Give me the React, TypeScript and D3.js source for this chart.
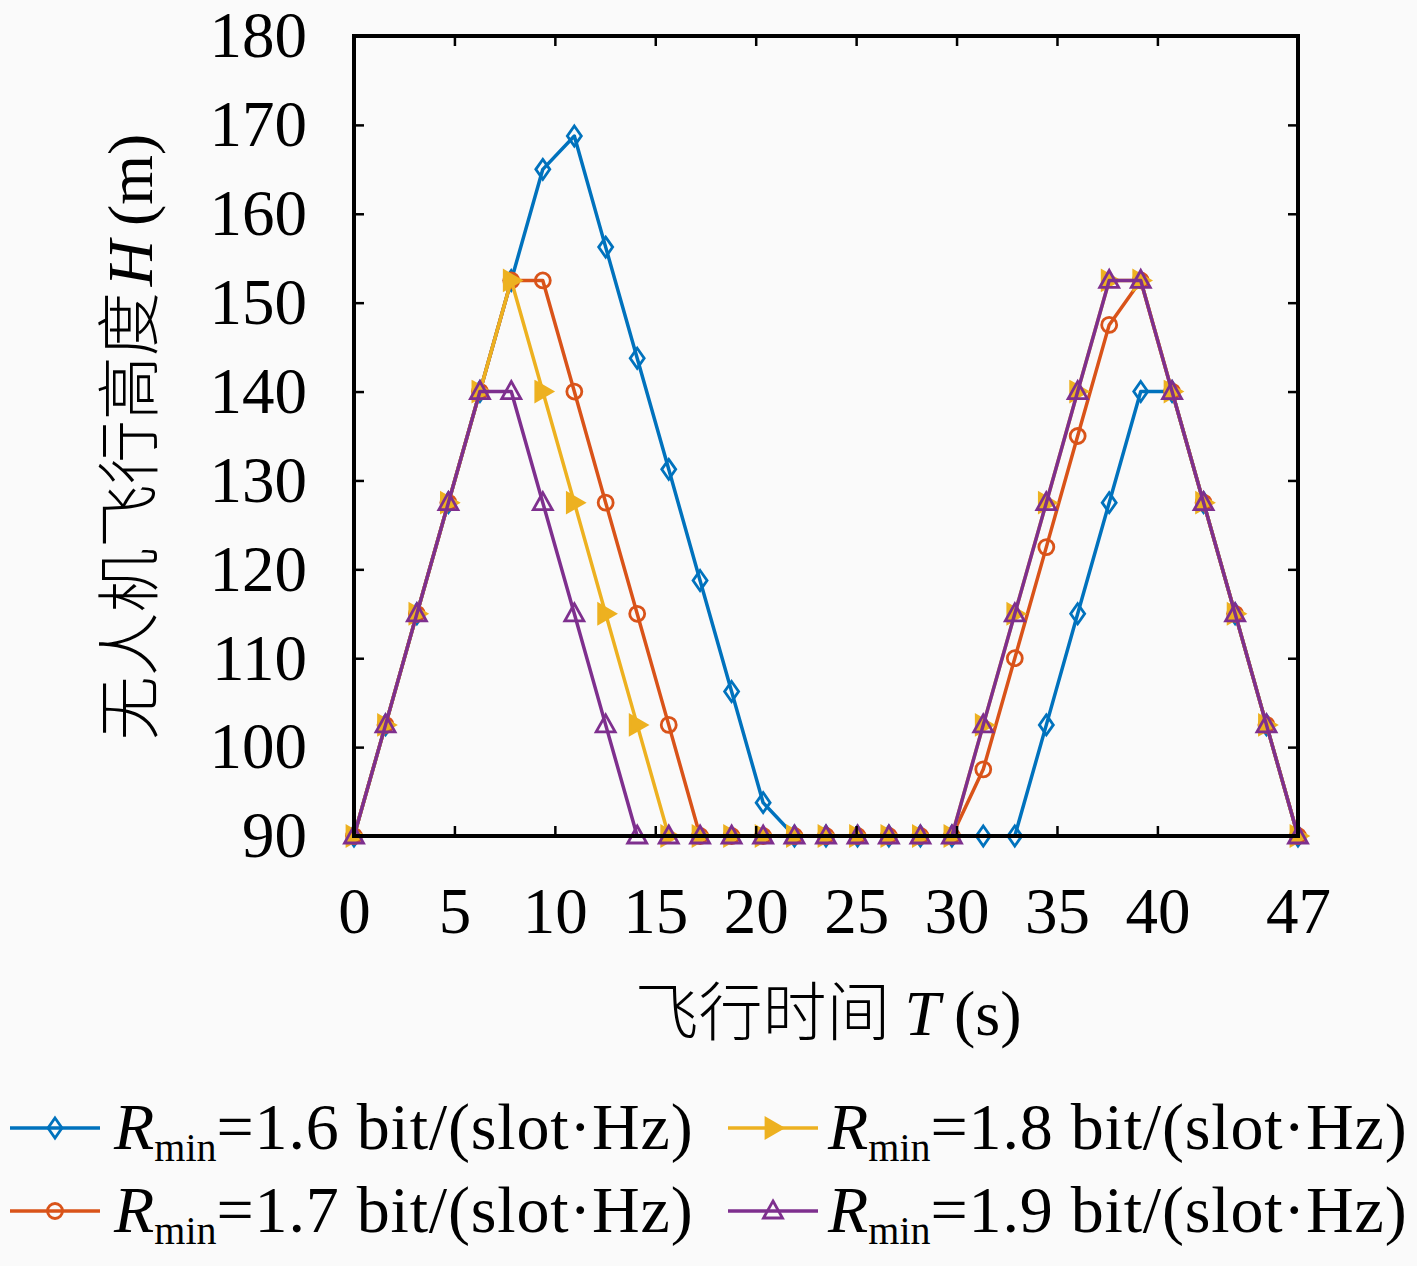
import { useEffect, useRef } from 'react';
import * as d3 from 'd3';

// flight time (s), 31 slots over 47 s
const times = [0, 1.57, 3.13, 4.7, 6.27, 7.83, 9.4, 10.97, 12.53, 14.1, 15.67, 17.23, 18.8, 20.37, 21.93, 23.5,
  25.07, 26.63, 28.2, 29.77, 31.33, 32.9, 34.47, 36.03, 37.6, 39.17, 40.73, 42.3, 43.87, 45.43, 47];

// UAV height H (m) for each Rmin
const h16 = [90, 102.5, 115, 127.5, 140, 152.5, 165, 168.75, 156.25, 143.75, 131.25, 118.75, 106.25, 93.75,
  90, 90, 90, 90, 90, 90, 90, 90, 102.5, 115, 127.5, 140, 140, 127.5, 115, 102.5, 90];
const h17 = [90, 102.5, 115, 127.5, 140, 152.5, 152.5, 140, 127.5, 115, 102.5, 90,
  90, 90, 90, 90, 90, 90, 90, 90, 97.5, 110, 122.5, 135, 147.5, 152.5, 140, 127.5, 115, 102.5, 90];
const h18 = [90, 102.5, 115, 127.5, 140, 152.5, 140, 127.5, 115, 102.5, 90,
  90, 90, 90, 90, 90, 90, 90, 90, 90, 102.5, 115, 127.5, 140, 152.5, 152.5, 140, 127.5, 115, 102.5, 90];
const h19 = [90, 102.5, 115, 127.5, 140, 140, 127.5, 115, 102.5, 90,
  90, 90, 90, 90, 90, 90, 90, 90, 90, 90, 102.5, 115, 127.5, 140, 152.5, 152.5, 140, 127.5, 115, 102.5, 90];

const rminLabels = ['1.6', '1.7', '1.8', '1.9'];
const xTicks = [0, 5, 10, 15, 20, 25, 30, 35, 40, 47];
const yTicks = [90, 100, 110, 120, 130, 140, 150, 160, 170, 180];

const colors = ['#0072BD', '#D95319', '#EDB120', '#7E2F8E'];
const markers = ['diamond', 'circle', 'triRight', 'triUp'];

const serif = '"Liberation Serif", "Times New Roman", serif';
const cjk = '"Noto Sans CJK SC", sans-serif';

function drawMarker(g: any, kind: string, x: number, y: number, color: string) {
  if (kind === 'circle') {
    g.append('circle').attr('cx', x).attr('cy', y).attr('r', 7.5)
      .attr('fill', 'none').attr('stroke', color).attr('stroke-width', 2.8);
    return;
  }
  let d = '';
  let fill = 'none';
  if (kind === 'diamond') d = `M${x},${y - 10}L${x + 7},${y}L${x},${y + 10}L${x - 7},${y}Z`;
  if (kind === 'triRight') { d = `M${x - 7},${y - 9.5}L${x + 9.5},${y}L${x - 7},${y + 9.5}Z`; fill = color; }
  if (kind === 'triUp') d = `M${x},${y - 10}L${x + 9.5},${y + 7}L${x - 9.5},${y + 7}Z`;
  g.append('path').attr('d', d).attr('fill', fill).attr('stroke', color)
    .attr('stroke-width', 2.8).attr('stroke-linejoin', 'miter');
}

const App = () => {
  const svgRef = useRef<SVGSVGElement>(null);

  useEffect(() => {
    if (!svgRef.current) return;
    d3.select(svgRef.current).selectAll('*').remove();

    const width = 1417;
    const height = 1266;
    const left = 354, right = 1298, top = 36, bottom = 836;

    const svg = d3.select(svgRef.current).attr('width', width).attr('height', height);
    svg.append('rect').attr('width', width).attr('height', height).attr('fill', '#fafafa');

    const x = d3.scaleLinear().domain([0, 47]).range([left, right]);
    const y = d3.scaleLinear().domain([90, 180]).range([bottom, top]);

    const allSeries = [h16, h17, h18, h19];

    // lines + markers
    const line = d3.line<number>().x((_, i) => x(times[i])).y(d => y(d));
    allSeries.forEach((s, k) => {
      const g = svg.append('g');
      g.append('path').attr('d', line(s)).attr('fill', 'none')
        .attr('stroke', colors[k]).attr('stroke-width', 3.5).attr('stroke-linejoin', 'round');
      s.forEach((v, i) => drawMarker(g, markers[k], x(times[i]), y(v), colors[k]));
    });

    // axes
    const styleAxis = (sel: any) => {
      sel.select('.domain').remove();
      sel.selectAll('line').attr('stroke', '#000').attr('stroke-width', 2.5);
      sel.selectAll('text').attr('font-family', serif).attr('font-size', 65).attr('fill', '#000');
    };
    svg.append('g').attr('transform', `translate(0,${bottom})`)
      .call(d3.axisBottom(x).tickValues(xTicks).tickSize(-10).tickPadding(51).tickFormat(d3.format('d')))
      .call(styleAxis);
    svg.append('g').attr('transform', `translate(0,${top})`)
      .call(d3.axisTop(x).tickValues(xTicks).tickSize(-10).tickFormat(() => ''))
      .call(styleAxis);
    svg.append('g').attr('transform', `translate(${left},0)`)
      .call(d3.axisLeft(y).tickValues(yTicks).tickSize(-10).tickPadding(47).tickFormat(d3.format('d')))
      .call(styleAxis);
    svg.append('g').attr('transform', `translate(${right},0)`)
      .call(d3.axisRight(y).tickValues(yTicks).tickSize(-10).tickFormat(() => ''))
      .call(styleAxis);

    svg.append('rect').attr('x', left).attr('y', top).attr('width', right - left).attr('height', bottom - top)
      .attr('fill', 'none').attr('stroke', '#000').attr('stroke-width', 4);

    // axis titles
    const xt = svg.append('text').attr('x', 828).attr('y', 1035).attr('text-anchor', 'middle')
      .attr('font-size', 64).attr('fill', '#000');
    xt.append('tspan').attr('font-family', cjk).attr('font-weight', 300).text('飞行时间');
    xt.append('tspan').attr('font-family', serif).attr('font-style', 'italic').attr('dx', 14).text('T');
    xt.append('tspan').attr('font-family', serif).attr('dx', 14).text('(s)');

    const yt = svg.append('text').attr('transform', 'translate(152,437) rotate(-90)')
      .attr('text-anchor', 'middle').attr('font-size', 64).attr('fill', '#000');
    yt.append('tspan').attr('font-family', cjk).attr('font-weight', 300).text('无人机飞行高度');
    yt.append('tspan').attr('font-family', serif).attr('font-style', 'italic').attr('dx', 6).text('H');
    yt.append('tspan').attr('font-family', serif).attr('dx', 14).text('(m)');

    // legend
    const legendPos = [
      { lx: 10, tx: 114, cy: 1128 },
      { lx: 10, tx: 114, cy: 1211 },
      { lx: 728, tx: 828, cy: 1128 },
      { lx: 728, tx: 828, cy: 1211 },
    ];
    rminLabels.forEach((lab, k) => {
      const p = legendPos[k];
      const g = svg.append('g');
      g.append('line').attr('x1', p.lx).attr('x2', p.lx + 90).attr('y1', p.cy).attr('y2', p.cy)
        .attr('stroke', colors[k]).attr('stroke-width', 3.5);
      drawMarker(g, markers[k], p.lx + 45, p.cy, colors[k]);
      const t = g.append('text').attr('x', p.tx).attr('y', p.cy + 21)
        .attr('font-family', serif).attr('font-size', 66).attr('fill', '#000');
      t.append('tspan').attr('font-style', 'italic').text('R');
      t.append('tspan').attr('font-size', 40).attr('dy', 12).text('min');
      t.append('tspan').attr('dy', -12).attr('letter-spacing', 0.8).text(`=${lab} bit/(slot·Hz)`);
    });
  }, []);

  return (
    <svg ref={svgRef} style={{ position: 'absolute', left: 0, top: 0, display: 'block' }} />
  );
};

export default App;
